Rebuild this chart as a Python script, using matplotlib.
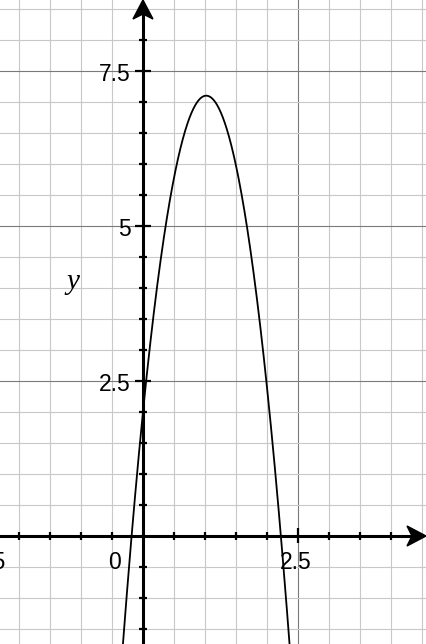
import numpy as np
import matplotlib
matplotlib.use("Agg")
import matplotlib.pyplot as plt
from matplotlib.patches import Polygon

# parabola y = a*x^2 + b*x + c
coeffs = [-4.9, 10.0, 2.0]
curve_x_range = [-0.5, 2.6]

x_limits = [-2.306, 4.565]
y_limits = [-1.742, 8.645]

x_tick_labels = ["-2.5", "0", "2.5"]
x_tick_values = [-2.5, 0.0, 2.5]
y_tick_labels = ["2.5", "5", "7.5"]
y_tick_values = [2.5, 5.0, 7.5]

fig = plt.figure(figsize=(4.26, 6.44), dpi=100)
ax = fig.add_axes([0, 0, 1, 1])
ax.set_xlim(x_limits)
ax.set_ylim(y_limits)
for s in ax.spines.values():
    s.set_visible(False)
ax.set_xticks([])
ax.set_yticks([])

px = 62.0  # pixels per unit

# grid: minor every 0.5, major every 2.5
for gx in np.arange(-2.0, 4.6, 0.5):
    major = abs(gx / 2.5 - round(gx / 2.5)) < 1e-6
    ax.axvline(gx, color="#7a7a7a" if major else "#c8c8c8", lw=0.8, zorder=0)
for gy in np.arange(-1.5, 8.7, 0.5):
    major = abs(gy / 2.5 - round(gy / 2.5)) < 1e-6
    ax.axhline(gy, color="#7a7a7a" if major else "#c8c8c8", lw=0.8, zorder=0)

# axes lines
ax.plot([0, 0], [y_limits[0], y_limits[1] - 14 / px], color="black", lw=2.2, zorder=3)
ax.plot([x_limits[0], x_limits[1] - 14 / px], [0, 0], color="black", lw=2.2, zorder=3)

# notched arrow heads
ytop = y_limits[1]
ax.add_patch(Polygon([(0, ytop), (-10 / px, ytop - 19 / px), (0, ytop - 14 / px),
                      (10 / px, ytop - 19 / px)], closed=True, color="black", zorder=4))
xr = x_limits[1]
ax.add_patch(Polygon([(xr, 0), (xr - 19 / px, 10 / px), (xr - 14 / px, 0),
                      (xr - 19 / px, -10 / px)], closed=True, color="black", zorder=4))

# axis ticks
for tx in np.arange(-2.0, 4.1, 0.5):
    if abs(tx) < 1e-6:
        continue
    major = abs(tx / 2.5 - round(tx / 2.5)) < 1e-6
    h = (7.5 if major else 4.0) / px
    ax.plot([tx, tx], [-h, h], color="black", lw=1.6, zorder=3, solid_capstyle="butt")
for ty in np.arange(-1.5, 8.1, 0.5):
    if abs(ty) < 1e-6:
        continue
    major = abs(ty / 2.5 - round(ty / 2.5)) < 1e-6
    w = (8.0 if major else 4.0) / px
    ax.plot([-w, w], [ty, ty], color="black", lw=1.6, zorder=3, solid_capstyle="butt")

# labels
font = dict(family="Liberation Sans", size=16.5, color="black")
for v, lab in zip(x_tick_values, x_tick_labels):
    xo = -28 / px if v == 0 else -2 / px
    ax.text(v + xo, -27 / px, lab, ha="center", va="center", **font)
for v, lab in zip(y_tick_values, y_tick_labels):
    ax.text(-12.5 / px, v - 4 / px, lab, ha="right", va="center", **font)

ax.text(-1.13, 4.1, "y", family="Liberation Serif", style="italic", size=21,
        ha="center", va="center")

# curve
xs = np.linspace(curve_x_range[0], curve_x_range[1], 400)
ys = np.polyval(coeffs, xs)
ax.plot(xs, ys, color="black", lw=1.3, zorder=4)

fig.savefig("out.png", dpi=100)
